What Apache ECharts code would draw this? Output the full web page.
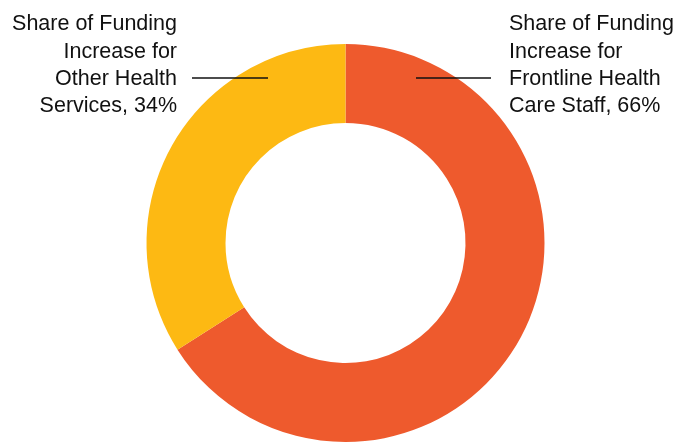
<!DOCTYPE html>
<html>
<head>
<meta charset="utf-8">
<script src="https://cdn.jsdelivr.net/npm/echarts@6/dist/echarts.min.js"></script>
<style>
  html, body { margin: 0; padding: 0; background: #fff; }
  #chart { width: 678px; height: 443px; }
</style>
</head>
<body>
<div id="chart"></div>
<script>
// Funding increase split, in percent
const categories = [
  'Share of Funding\nIncrease for\nFrontline Health\nCare Staff',
  'Share of Funding\nIncrease for\nOther Health\nServices'
];
const shares = [66, 34];
const colors = ['#EE5A2D', '#FDB913'];

const chart = echarts.init(document.getElementById('chart'), null, { renderer: 'canvas' });

// Label placement for each slice: text anchor plus leader line endpoints
const labelPlacement = [
  { x: 509, y: 65.5, align: 'left', line: [416, 78, 491, 78] },
  { x: 177, y: 65.5, align: 'right', line: [192, 78, 268, 78] }
];

chart.setOption({
  animation: false,
  backgroundColor: '#ffffff',
  series: [{
    type: 'pie',
    center: [345.5, 243],
    radius: [120, 199],
    startAngle: 90,
    clockwise: true,
    silent: true,
    data: categories.map((name, i) => ({
      name: name,
      value: shares[i],
      itemStyle: { color: colors[i] }
    })),
    label: {
      show: true,
      formatter: p => p.name + ', ' + p.value + '%',
      fontFamily: '"Liberation Sans", Arial, sans-serif',
      fontSize: 21.5,
      lineHeight: 27.3,
      color: '#111111',
      overflow: 'none'
    },
    labelLine: { show: false },
    labelLayout: function (params) {
      const p = labelPlacement[params.dataIndex];
      return {
        x: p.x,
        y: p.y,
        align: p.align,
        verticalAlign: 'middle',
        width: 200
      };
    }
  }],
  // Leader lines, drawn above the ring
  graphic: labelPlacement.map(p => ({
    type: 'line',
    z: 100,
    silent: true,
    shape: { x1: p.line[0], y1: p.line[1], x2: p.line[2], y2: p.line[3] },
    style: { stroke: '#111111', lineWidth: 1.4 }
  }))
});
</script>
</body>
</html>
